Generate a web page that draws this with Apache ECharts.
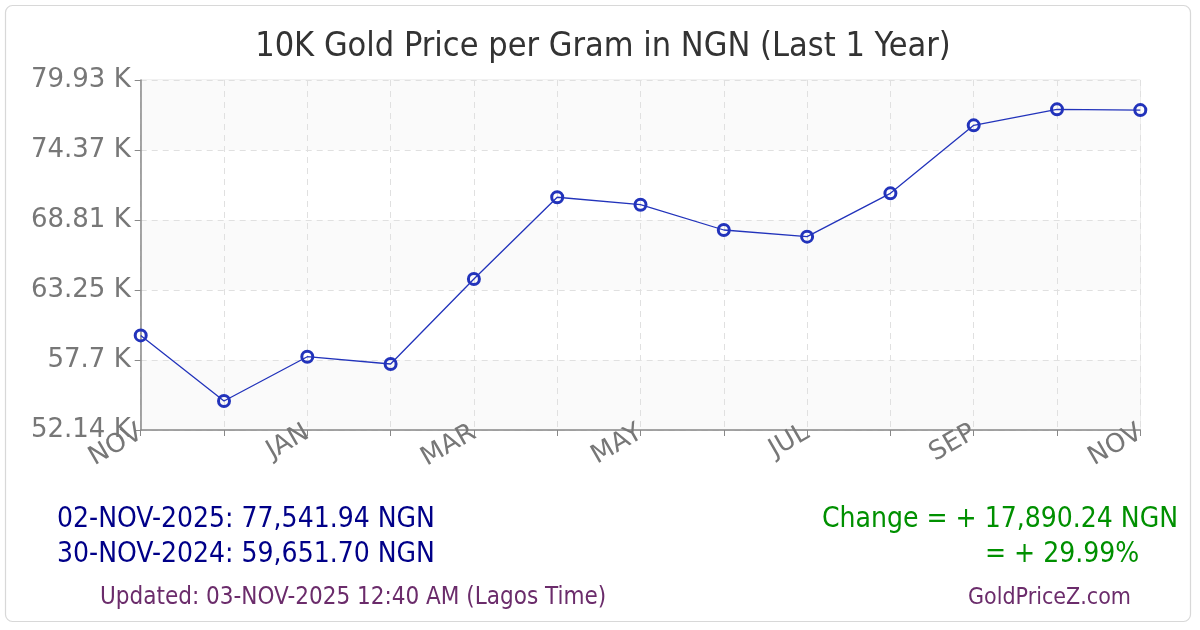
<!DOCTYPE html>
<html>
<head>
<meta charset="utf-8">
<script src="https://cdn.jsdelivr.net/npm/echarts@6/dist/echarts.min.js"></script>
<style>
  html, body { margin: 0; padding: 0; background: #fff; }
  #chart { width: 1200px; height: 630px; }
</style>
</head>
<body>
<div id="chart"></div>
<script>
// ---- data ----
const categories = ['NOV','DEC','JAN','FEB','MAR','APR','MAY','JUN','JUL','AUG','SEP','OCT','NOV'];
const prices = [59651.70, 54440, 57960, 57380, 64130, 70620, 70030, 68020, 67490, 70930, 76330, 77600, 77541.94];
const yMin = 52140;
const yMax = 79930;
const yTickLabels = ['52.14 K','57.7 K','63.25 K','68.81 K','74.37 K','79.93 K'];
const titleText = '10K Gold Price per Gram in NGN (Last 1 Year)';
const latestText = '02-NOV-2025: 77,541.94 NGN';
const firstText = '30-NOV-2024: 59,651.70 NGN';
const changeText = 'Change = + 17,890.24 NGN';
const changePctText = '= + 29.99%';
const updatedText = 'Updated: 03-NOV-2025 12:40 AM (Lagos Time)';
const siteText = 'GoldPriceZ.com';

const chart = echarts.init(document.getElementById('chart'), null, {renderer: 'canvas'});
const condensed = '"DejaVu Sans Condensed", "DejaVu Sans", sans-serif';
const lineColor = '#2233bb';

chart.setOption({
  animation: false,
  backgroundColor: '#ffffff',
  grid: {
    left: 140.7, right: 59.7, top: 80, bottom: 200,
    show: true, borderColor: '#e2e2e2', borderWidth: 1, backgroundColor: 'transparent'
  },
  xAxis: {
    type: 'category',
    data: categories,
    boundaryGap: false,
    axisLine: { lineStyle: { color: '#888', width: 1.5 } },
    axisTick: { show: true, interval: 0, length: 6, lineStyle: { color: '#888' } },
    axisLabel: {
      interval: 1, rotate: 30, margin: 1,
      color: '#777', fontSize: 26, fontFamily: '"DejaVu Sans", sans-serif'
    },
    splitLine: { show: true, interval: 0, lineStyle: { color: '#e0e0e0', type: [6, 5], width: 1 } }
  },
  yAxis: {
    type: 'value',
    min: yMin, max: yMax, interval: (yMax - yMin) / 5,
    axisLine: { show: true, lineStyle: { color: '#888', width: 1.5 } },
    axisTick: { show: true, length: 6, lineStyle: { color: '#888' } },
    axisLabel: {
      margin: 10, color: '#777', fontSize: 26, fontFamily: '"DejaVu Sans", sans-serif',
      formatter: (v, i) => yTickLabels[i] !== undefined ? yTickLabels[i] : ''
    },
    splitLine: { show: true, lineStyle: { color: '#e0e0e0', type: [6, 5], width: 1 } },
    splitArea: { show: true, areaStyle: { color: ['#fafafa', '#ffffff'] } }
  },
  series: [{
    type: 'line',
    data: prices,
    symbol: 'circle',
    symbolSize: 11,
    showAllSymbol: true,
    lineStyle: { color: lineColor, width: 1.3 },
    itemStyle: { color: 'rgba(255,255,255,0)', borderColor: lineColor, borderWidth: 3 },
    z: 5
  }],
  graphic: [
    { type: 'rect', shape: { x: 5.5, y: 5.5, width: 1185, height: 616, r: 7 },
      style: { fill: 'none', stroke: '#d8d8d8', lineWidth: 1.2 }, z: -1, silent: true },
    { type: 'text', x: 603, y: 47, style: { text: titleText, fill: '#333', font: '34px ' + condensed,
      textAlign: 'center', textVerticalAlign: 'middle' } },
    { type: 'text', x: 57, y: 520, style: { text: latestText, fill: '#000088', font: '28px ' + condensed,
      textAlign: 'left', textVerticalAlign: 'middle' } },
    { type: 'text', x: 57, y: 555, style: { text: firstText, fill: '#000088', font: '28px ' + condensed,
      textAlign: 'left', textVerticalAlign: 'middle' } },
    { type: 'text', x: 822, y: 520, style: { text: changeText, fill: '#009000', font: '28px ' + condensed,
      textAlign: 'left', textVerticalAlign: 'middle' } },
    { type: 'text', x: 985, y: 555, style: { text: changePctText, fill: '#009000', font: '28px ' + condensed,
      textAlign: 'left', textVerticalAlign: 'middle' } },
    { type: 'text', x: 100, y: 598, style: { text: updatedText, fill: '#6b2c6b', font: '24px ' + condensed,
      textAlign: 'left', textVerticalAlign: 'middle' } },
    { type: 'text', x: 968, y: 598, style: { text: siteText, fill: '#6b2c6b', font: '23px ' + condensed,
      textAlign: 'left', textVerticalAlign: 'middle' } }
  ]
});
</script>
</body>
</html>
